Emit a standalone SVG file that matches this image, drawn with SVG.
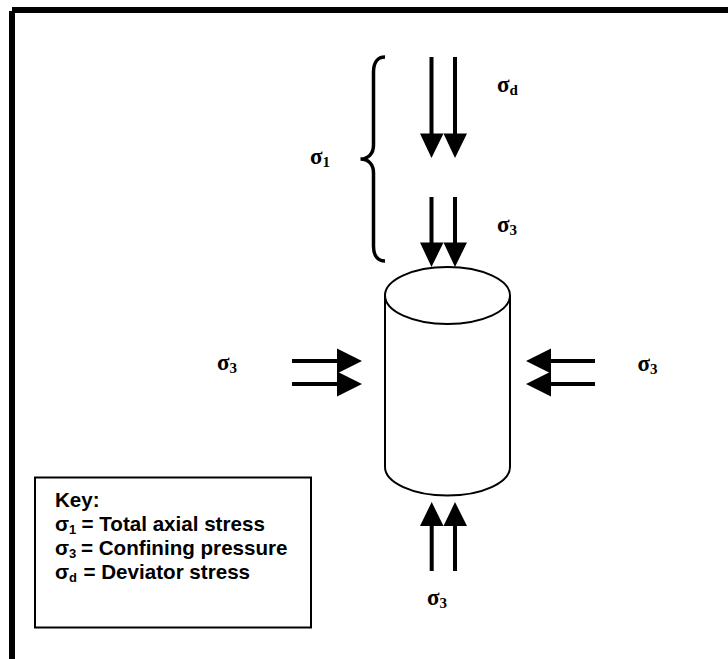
<svg xmlns="http://www.w3.org/2000/svg" width="728" height="659" viewBox="0 0 728 659">
<style>
.s{font-family:"Liberation Serif","Times New Roman",serif;font-weight:bold;font-size:23px;fill:#000}
.b{font-size:15px}
.k{font-family:"Liberation Sans",Arial,sans-serif;font-weight:bold;font-size:20.600px;fill:#000}
.ks{font-size:13px}
.shaft{stroke:#000;stroke-width:4;fill:none}
.head{fill:#000}
.o{fill:#fff;stroke:#000;stroke-width:2}
</style>
<rect width="728" height="659" fill="#fff"/>
<g id="frame">
<rect x="12" y="7" width="716" height="6" fill="#000"/>
<rect x="9" y="11" width="6" height="648" fill="#000"/>
</g>
<g id="cylinder">
<path class="o" d="M385 295V467C385 482.500 413 495.500 447.500 495.500C482 495.500 510 482.500 510 467V295"/>
<ellipse class="o" cx="447.500" cy="295.500" rx="62.500" ry="28.500"/>
</g>
<g id="brace">
<path d="M385 57C378 57 373.500 62 373.500 72V145C373.500 154 368 159 360.500 159C368 159 373.500 164 373.500 173V246C373.500 256 378 261 385 261" fill="none" stroke="#000" stroke-width="3.500"/>
</g>
<g id="key">
<rect x="35" y="477.500" width="276" height="150" fill="#fff" stroke="#000" stroke-width="2"/>
<text class="k" x="55" y="507">Key:</text>
<text class="k" x="55" y="530.500">σ<tspan class="ks" dy="3">1</tspan><tspan x="81.500" dy="-3">= Total axial stress</tspan></text>
<text class="k" x="55" y="554.500">σ<tspan class="ks" dy="3">3</tspan><tspan x="81" dy="-3">= Confining pressure</tspan></text>
<text class="k" x="55" y="578.500">σ<tspan class="ks" dy="3">d</tspan><tspan x="83.500" dy="-3">= Deviator stress</tspan></text>
</g>
<g id="connectors">
<path class="shaft" d="M431.500 57V135M455 57V135M431.500 197V244M455 197V244M292 361H339M292 384H339M595 361H549M595 384H549M431.700 571V524M455 571V524"/>
<path class="head" d="M420 133.500H443.500L431.500 158ZM443.500 133.500H467L455 158ZM420 242.500H443.500L431.500 267ZM443.500 242.500H467L455 267ZM337 348.500L362 361L337 373.500ZM337 371.500L362 384L337 396.500ZM551 348.500L526 361L551 373.500ZM551 371.500L526 384L551 396.500ZM420 526H443.500L431.700 502ZM443.500 526H467L455 502Z"/>
</g>
<g id="labels">
<text class="s" x="310" y="164">σ<tspan class="b" dy="3">1</tspan></text>
<text class="s" x="497" y="92">σ<tspan class="b" dy="3">d</tspan></text>
<text class="s" x="497" y="232">σ<tspan class="b" dy="3">3</tspan></text>
<text class="s" x="217" y="370">σ<tspan class="b" dy="3">3</tspan></text>
<text class="s" x="637.500" y="370.500">σ<tspan class="b" dy="3">3</tspan></text>
<text class="s" x="427" y="605">σ<tspan class="b" dy="3">3</tspan></text>
</g>
</svg>
